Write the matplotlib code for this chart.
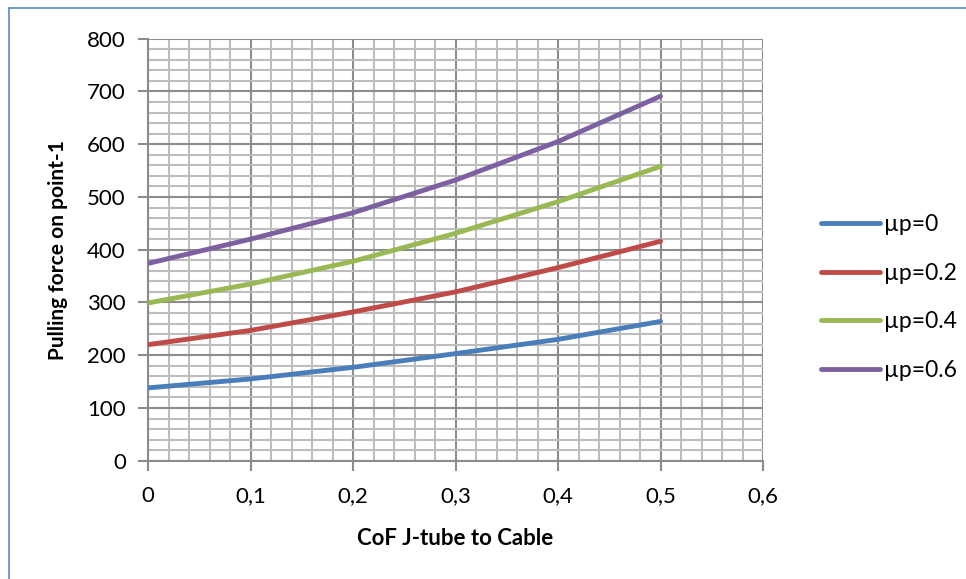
import matplotlib
matplotlib.use("Agg")
import matplotlib.pyplot as plt
from matplotlib.ticker import MultipleLocator, FuncFormatter
from matplotlib.lines import Line2D

plt.rcParams['font.family'] = ['Lato', 'DejaVu Sans']

# Coefficient of friction between J-tube and cable
cof = [0.0, 0.1, 0.2, 0.3, 0.4, 0.5]

# Pulling force on point-1 for each pulling-point friction value
force_mu0 = [138, 155, 177, 203, 230, 264]
force_mu02 = [220, 247, 282, 320, 366, 416]
force_mu04 = [299, 335, 378, 431, 491, 558]
force_mu06 = [374, 420, 470, 532, 605, 691]

series_labels = ["µp=0", "µp=0.2", "µp=0.4", "µp=0.6"]
series_values = [force_mu0, force_mu02, force_mu04, force_mu06]
series_colors = ["#4A7EBB", "#BE4B48", "#98B954", "#7D60A0"]

fig = plt.figure(figsize=(9.66, 5.79), dpi=100)
ax = fig.add_axes([148 / 966, 1 - 460.7 / 579, 615 / 966, 422 / 579])

for vals, col, lab in zip(series_values, series_colors, series_labels):
    ax.plot(cof, vals, color=col, lw=3.5, solid_capstyle='round',
            solid_joinstyle='round', label=lab, zorder=3)

ax.set_xlim(0, 0.6)
ax.set_ylim(0, 800)
ax.xaxis.set_major_locator(MultipleLocator(0.1))
ax.xaxis.set_minor_locator(MultipleLocator(0.02))
ax.yaxis.set_major_locator(MultipleLocator(100))
ax.yaxis.set_minor_locator(MultipleLocator(20))
ax.xaxis.set_major_formatter(FuncFormatter(lambda v, p: ("%g" % round(v, 2)).replace('.', ',')))

ax.grid(which='minor', color='#BDBDBD', lw=1.5, zorder=0)
ax.grid(which='major', color='#8C8C8C', lw=1.5, zorder=1)
ax.set_axisbelow(True)

for side in ('top', 'right'):
    ax.spines[side].set_visible(False)
for side in ('left', 'bottom'):
    ax.spines[side].set_color('#8C8C8C')
    ax.spines[side].set_linewidth(1.5)

ax.tick_params(which='major', length=7, width=1.5, color='#8C8C8C',
               labelsize=16, labelcolor='black')
ax.tick_params(which='minor', length=0)
ax.tick_params(axis='y', pad=9)
ax.tick_params(axis='x', pad=11)

ax.set_xlabel("CoF J-tube to Cable", fontsize=16, fontweight='bold', labelpad=16)
ax.set_ylabel("Pulling force on point-1", fontsize=15, fontweight='bold', labelpad=14)

handles = [Line2D([0], [0], color=c, lw=3.5, solid_capstyle='round') for c in series_colors]
fig.legend(handles, series_labels, loc='upper left', bbox_to_anchor=(812 / 966, 1 - 205 / 579),
           frameon=False, fontsize=16.5, handlelength=2.55, handletextpad=0.2,
           labelspacing=1.2, borderaxespad=0)

# chart-area frame
fig.add_artist(Line2D([9 / 966, 9 / 966], [0, 1 - 8 / 579], transform=fig.transFigure,
                      color='#5B8AC4', lw=1.2))
fig.add_artist(Line2D([9 / 966, 1], [1 - 8 / 579, 1 - 8 / 579], transform=fig.transFigure,
                      color='#5B8AC4', lw=1.2))

fig.savefig("out.png", dpi=100)
